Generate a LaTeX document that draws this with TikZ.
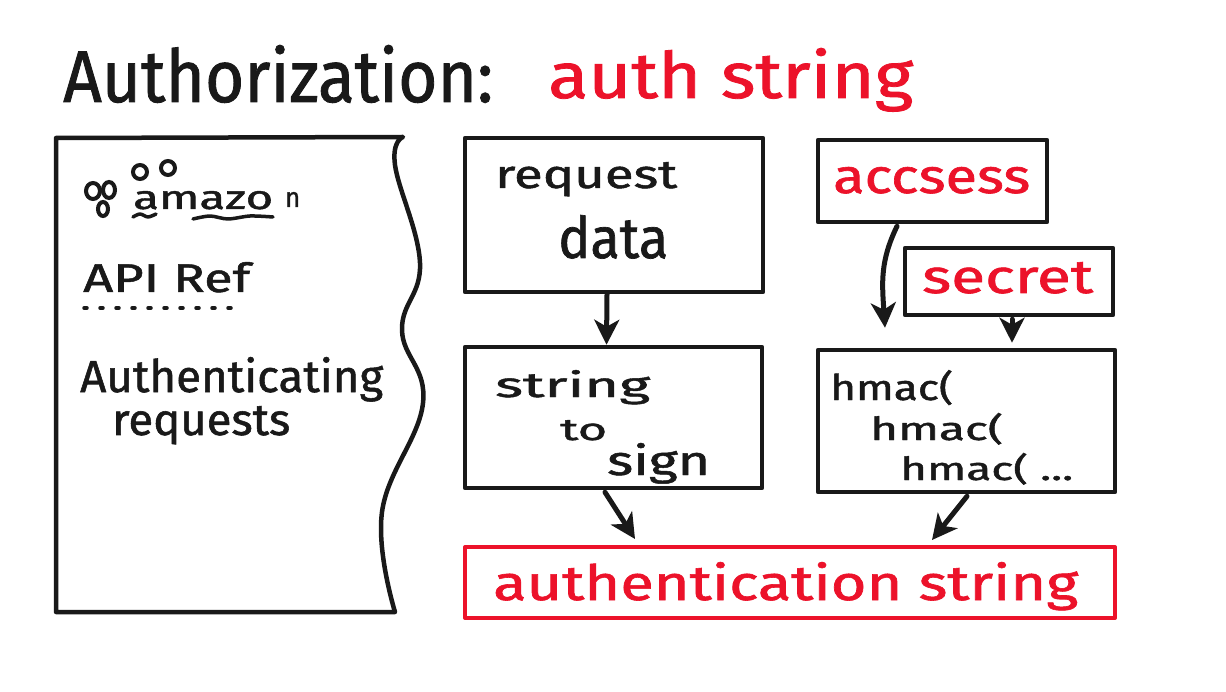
\documentclass[tikz,border=0pt]{standalone}
\usepackage{fontspec}
\setmainfont{Fira Sans}[FakeBold=1.2]
\usepackage{graphicx}
\usetikzlibrary{arrows.meta,calc}
\definecolor{ink}{RGB}{25,25,25}
\definecolor{pen}{RGB}{236,18,42}
\newcommand{\fitt}[3]{\resizebox{#1pt}{#2pt}{#3}}
\tikzset{
  box/.style={draw=ink, line width=4.5pt, inner sep=0pt, line join=round},
  redbox/.style={draw=pen, line width=4pt, inner sep=0pt, line join=round},
  txt/.style={inner sep=0pt, anchor=base west, text=ink, font=\fontsize{40}{48}\selectfont},
  redtxt/.style={txt, text=pen},
  arr/.style={draw=ink, line width=5pt, line cap=round, -{Stealth[length=25pt,width=25pt,inset=7pt]}},
  ink line/.style={draw=ink, line width=4pt, line cap=round, line join=round},
  logo/.style={draw=ink, line width=4pt}
}
\begin{document}
\begin{tikzpicture}[x=1pt,y=-1pt]
\useasboundingbox (0,0) rectangle (1226,692);
\fill[white] (0,0) rectangle (1226,692);

% title
\node[txt] (title) at (63,102) {\fitt{430}{57}{Authorization:}};
\node[redtxt] (titlered) at (548,98) {\fitt{365}{50}{auth string}};

% left panel (torn page)
\draw[ink line, line width=4.5pt] plot[smooth, tension=0.7] coordinates {(403,137) (395,165) (420,263) (402,330) (423,403) (382,512) (395,612)} -- (56,612) -- (56,138) -- cycle;

% amazon logo sketch
\draw[logo] (93,191) ellipse (7pt and 8pt);
\draw[logo] (109,190) ellipse (6pt and 8pt);
\draw[logo] (103,209) ellipse (5pt and 7pt);
\draw[logo] (140,172) ellipse (7pt and 7pt);
\draw[logo] (168,168) ellipse (7pt and 7pt);
\node[txt] (amazon) at (133,209) {\fitt{140}{18}{amazo}};
\node[txt] (amazonn) at (285,207) {\fitt{15}{15}{n}};
\draw[ink line, line width=3.5pt] plot[smooth] coordinates {(133,217) (140,214) (148,217) (156,214)};
\draw[ink line, line width=3.5pt] plot[smooth] coordinates {(193,219) (210,216) (228,219) (250,216) (273,217)};

\node[txt] (api) at (83,292) {\fitt{167}{30}{API Ref}};
\draw[draw=ink, line width=3.5pt, dash pattern=on 3pt off 13pt, line cap=round] (84,308) -- (237,308);
\node[txt] (authing) at (80,392) {\fitt{303}{35}{Authenticating}};
\node[txt] (reqs) at (112,435) {\fitt{178}{29}{requests}};

% boxes
\node[box, minimum width=298pt, minimum height=154pt] (rd) at (614,215) {};
\node[txt] (rdA) at (495,188) {\fitt{182}{26}{request}};
\node[txt] (rdB) at (558,258) {\fitt{110}{43}{data}};

\node[box, minimum width=297pt, minimum height=141pt] (ss) at (613.5,417.5) {};
\node[txt] (ssA) at (495,397) {\fitt{155}{27}{string}};
\node[txt] (ssB) at (560,440) {\fitt{47}{20}{to}};
\node[txt] (ssC) at (607,475) {\fitt{103}{32}{sign}};

\node[box, minimum width=229pt, minimum height=82pt] (acc) at (932.5,181) {};
\node[redtxt] (accT) at (833,193) {\fitt{197}{26}{accsess}};

\node[box, minimum width=208pt, minimum height=67pt] (sec) at (1009,281.5) {};
\node[redtxt] (secT) at (922,293) {\fitt{171}{31}{secret}};

\node[box, minimum width=297pt, minimum height=142pt] (hm) at (966.5,421) {};
\node[txt] (hmA) at (830,400) {\fitt{123}{30}{hmac(}};
\node[txt] (hmB) at (870,440) {\fitt{133}{27}{hmac(}};
\node[txt] (hmC) at (900,480) {\fitt{173}{27}{hmac( ...}};

\node[redbox, minimum width=650pt, minimum height=71pt] (auth) at (790,582.5) {};
\node[redtxt] (authT) at (493,600) {\fitt{585}{38}{authentication string}};

% connectors
\draw[arr] ($(rd.south)+(-7,0)$) -- ($(ss.north)+(-7,0)$);
\coordinate (accEnd) at ($(hm.north)+(-81.5,-20)$);
\draw[arr] ($(acc.south)+(-35.5,2)$) .. controls +(-17,35) and +(-3,-45) .. (accEnd);
\coordinate (secEnd) at ($(hm.north)+(45.5,-5)$);
\draw[arr] ($(sec.south)+(3,2)$) -- (secEnd);
\coordinate (ssEnd) at ($(auth.north)+(-155,-6)$);
\draw[arr] ($(ss.south)+(-8.5,2)$) -- (ssEnd);
\coordinate (hmEnd) at ($(auth.north)+(142,-5)$);
\draw[arr] ($(hm.south)+(0.5,2)$) -- (hmEnd);
\end{tikzpicture}
\end{document}
